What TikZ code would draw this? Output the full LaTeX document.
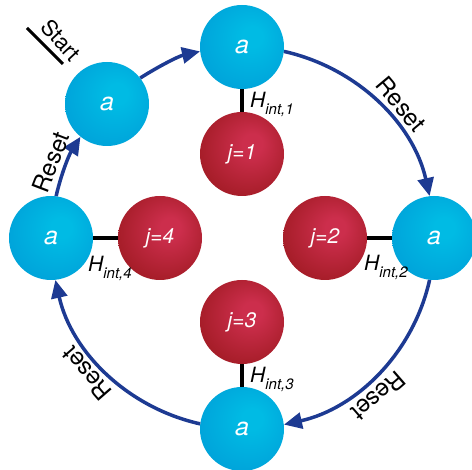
\documentclass[tikz,border=0pt]{standalone}
\usepackage{fontspec}
\setmainfont{TeX Gyre Heros}
\usetikzlibrary{arrows.meta}

\definecolor{cyanhi}{HTML}{00BBE4}
\definecolor{cyanlo}{HTML}{009FD8}
\definecolor{redhi}{HTML}{CC2E4C}
\definecolor{redlo}{HTML}{9D1920}
\definecolor{arcblue}{HTML}{1D3A92}

% soft highlight towards the upper right of each ball
\pgfdeclareradialshading{siteshade}{\pgfpoint{7bp}{7bp}}{color(0bp)=(cyanhi); color(6bp)=(cyanhi); color(34bp)=(cyanlo); color(50bp)=(cyanlo)}
\pgfdeclareradialshading{bathshade}{\pgfpoint{7bp}{7bp}}{color(0bp)=(redhi); color(6bp)=(redhi); color(34bp)=(redlo); color(50bp)=(redlo)}

\begin{document}
\begin{tikzpicture}[x=1pt,y=-1pt,
  site/.style={circle, minimum size=84pt, inner sep=0pt, shading=siteshade,
    text=white, font=\fontsize{25}{25}\selectfont\itshape},
  bath/.style={circle, minimum size=84pt, inner sep=0pt, shading=bathshade,
    text=white, font=\fontsize{21}{21}\selectfont\itshape},
  coupling/.style={line width=3.5pt},
  reset/.style={arcblue, line width=3.5pt, -{Triangle[length=18pt,width=16pt]}},
  lbl/.style={inner sep=0pt, font=\fontsize{24}{24}\selectfont},
  hint/.style={anchor=base west, inner sep=0pt, font=\fontsize{21}{21}\selectfont\itshape}
]
\useasboundingbox (0,0) rectangle (472,470);
\clip (0,0) rectangle (472,470);

% collision sites on the ring (centre 242,238, radius 191)
\node[site] (tl)     at (107,104) {a};
\node[site] (top)    at (242,47)  {a};
\node[site] (right)  at (434,238) {a};
\node[site] (bottom) at (242,429) {a};
\node[site] (left)   at (51,238)  {a};

% system qubits
\node[bath] (j1) at (242,154) {j=1};
\node[bath] (j2) at (325,238) {j=2};
\node[bath] (j3) at (242,322) {j=3};
\node[bath] (j4) at (160,238) {j=4};

% interactions
\draw[coupling] (top.south) -- (j1.north);
\draw[coupling] (j2.east) -- (right.west);
\draw[coupling] (j3.south) -- (bottom.north);
\draw[coupling] (j4.west) -- (left.east);

\newcommand{\hint}[1]{H\raisebox{-7pt}{\fontsize{15}{15}\selectfont int,#1}}
\node[hint] (h1) at (250,108) {\hint{1}};
\node[hint] (h2) at (364,271) {\hint{2}};
\node[hint] (h3) at (250,383) {\hint{3}};
\node[hint] (h4) at (88,272)  {\hint{4}};

% ring of resets, following the circle between neighbouring sites
\draw[reset] (tl.38.7)     to[out=32.4,  in=192.6, looseness=0.86] (top.186.3);
\draw[reset] (top.-6.3)    to[out=-12.6, in=102.6, looseness=0.93] (right.96.3);
\draw[reset] (right.-96.3) to[out=-102.6, in=12.6, looseness=0.93] (bottom.6.3);
\draw[reset] (bottom.173.7) to[out=167.4, in=282.6, looseness=0.93] (left.276.3);
\draw[reset] (left.83.7)   to[out=77.4,  in=237.6, looseness=0.86] (tl.231.3);

\node[lbl, rotate=-50]  (r1) at (401,104) {Reset};
\node[lbl, rotate=-139] (r2) at (379,396) {Reset};
\node[lbl, rotate=131]  (r3) at (87,374)  {Reset};
\node[lbl, rotate=69]   (r4) at (51,162)  {Reset};

% start marker
\node[lbl, font=\fontsize{22}{22}\selectfont, rotate=-47] (start) at (61,40) {Start};
\coordinate (s1) at (27,28);
\coordinate (s2) at (63,64);
\draw[line width=3pt] (s1) -- (s2);
\end{tikzpicture}
\end{document}
